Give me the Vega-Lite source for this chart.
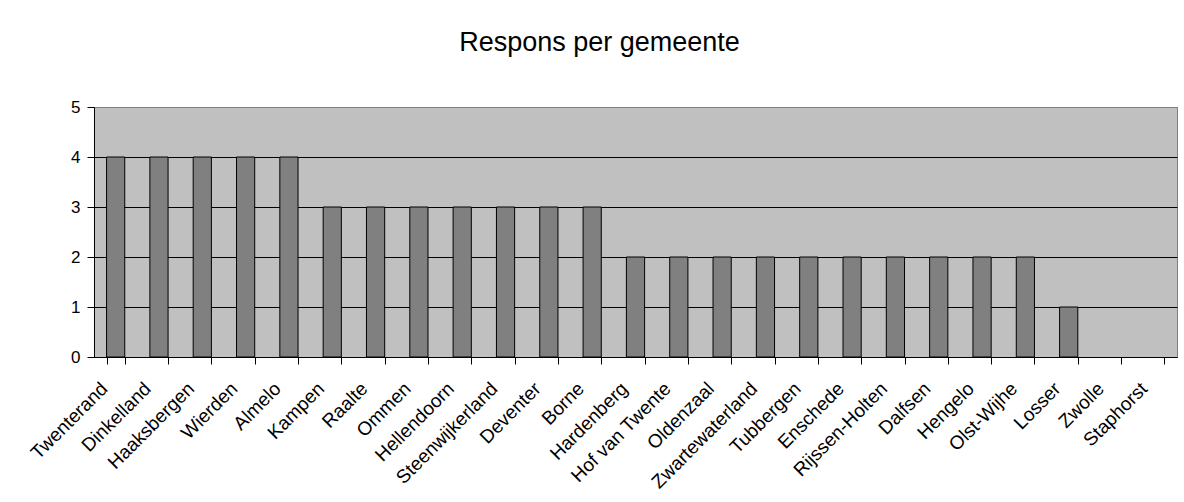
{
  "$schema": "https://vega.github.io/schema/vega-lite/v6.json",
  "autosize": "none",
  "width": 1083,
  "height": 250,
  "padding": {"left": 94, "top": 107, "right": 7, "bottom": 145},
  "background": "white",
  "title": {
    "text": "Respons per gemeente",
    "font": "Liberation Sans",
    "fontSize": 27,
    "fontWeight": "normal",
    "color": "black",
    "anchor": "middle",
    "baseline": "alphabetic",
    "dx": -36,
    "offset": 20
  },
  "data": {
    "values": [
      {"gemeente": "Twenterand", "respons": 4},
      {"gemeente": "Dinkelland", "respons": 4},
      {"gemeente": "Haaksbergen", "respons": 4},
      {"gemeente": "Wierden", "respons": 4},
      {"gemeente": "Almelo", "respons": 4},
      {"gemeente": "Kampen", "respons": 3},
      {"gemeente": "Raalte", "respons": 3},
      {"gemeente": "Ommen", "respons": 3},
      {"gemeente": "Hellendoorn", "respons": 3},
      {"gemeente": "Steenwijkerland", "respons": 3},
      {"gemeente": "Deventer", "respons": 3},
      {"gemeente": "Borne", "respons": 3},
      {"gemeente": "Hardenberg", "respons": 2},
      {"gemeente": "Hof van Twente", "respons": 2},
      {"gemeente": "Oldenzaal", "respons": 2},
      {"gemeente": "Zwartewaterland", "respons": 2},
      {"gemeente": "Tubbergen", "respons": 2},
      {"gemeente": "Enschede", "respons": 2},
      {"gemeente": "Rijssen-Holten", "respons": 2},
      {"gemeente": "Dalfsen", "respons": 2},
      {"gemeente": "Hengelo", "respons": 2},
      {"gemeente": "Olst-Wijhe", "respons": 2},
      {"gemeente": "Losser", "respons": 1},
      {"gemeente": "Zwolle", "respons": 0},
      {"gemeente": "Staphorst", "respons": 0}
    ]
  },
  "mark": {"type": "bar", "fill": "#808080", "stroke": "black"},
  "encoding": {
    "x": {
      "field": "gemeente",
      "type": "nominal",
      "sort": null,
      "scale": {"paddingInner": 0.58, "paddingOuter": 0.29},
      "axis": {
        "title": null,
        "labelAngle": -45,
        "labelAlign": "right",
        "labelBaseline": "top",
        "labelOffset": -18,
        "labelPadding": 15,
        "labelFont": "Liberation Sans",
        "labelFontSize": 19,
        "labelColor": "black",
        "labelOverlap": false,
        "labelLimit": 300,
        "tickBand": "extent",
        "tickColor": "black",
        "tickSize": 7,
        "domainColor": "black",
        "grid": false
      }
    },
    "y": {
      "field": "respons",
      "type": "quantitative",
      "scale": {"domain": [0, 5], "nice": false},
      "axis": {
        "title": null,
        "values": [0, 1, 2, 3, 4, 5],
        "labelFont": "Liberation Sans",
        "labelFontSize": 17,
        "labelColor": "black",
        "labelPadding": 7,
        "tickColor": "black",
        "tickSize": 7,
        "domainColor": "black",
        "grid": true,
        "gridColor": {"condition": {"test": "datum.value == 5", "value": "#808080"}, "value": "black"},
        "gridOpacity": 1,
        "gridWidth": 1
      }
    },
    "strokeWidth": {
      "condition": {"test": "datum.respons == 0", "value": 0},
      "value": 1
    }
  },
  "config": {
    "view": {"fill": "#C0C0C0", "stroke": "#808080", "strokeWidth": 1}
  }
}
